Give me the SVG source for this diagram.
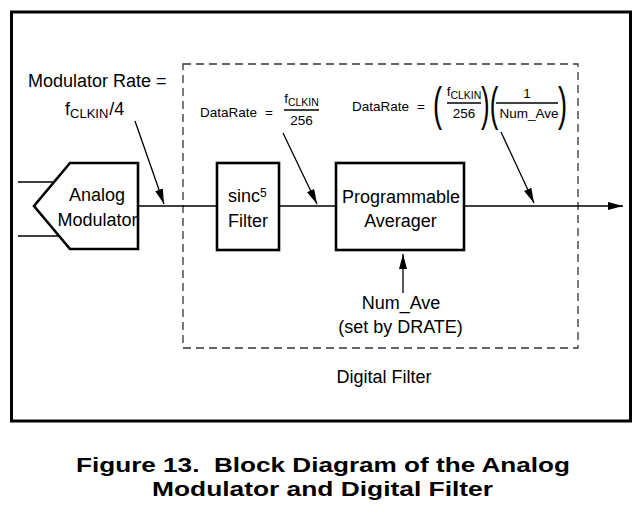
<svg xmlns="http://www.w3.org/2000/svg" width="644" height="514" viewBox="0 0 644 514">
<defs>
<style>
text{font-family:"Liberation Sans",Arial,Helvetica,sans-serif;fill:#000}
.t18{font-size:18px}
.t13{font-size:13.5px}
.cap{font-size:21px;font-weight:bold}
.mid{text-anchor:middle}
.box{fill:#fff;stroke:#000;stroke-width:2.6}
.ln{fill:none;stroke:#000;stroke-width:1.3}
.par{font-size:47px}
</style>
<marker id="ah" markerWidth="15" markerHeight="8" refX="15" refY="4" orient="auto" markerUnits="userSpaceOnUse">
<path d="M0,0 L15,4 L0,8 z" fill="#000"/>
</marker>
</defs>
<rect width="644" height="514" fill="#fff"/>
<g id="frame">
<rect x="11.5" y="12" width="619" height="409" fill="none" stroke="#000" stroke-width="3"/>
</g>
<g id="digital-filter">
<rect x="183" y="64" width="395" height="284" fill="none" stroke="#333" stroke-width="1.3" stroke-dasharray="8,5"/>
<text class="t18 mid" x="384" y="383">Digital Filter</text>
</g>
<g id="connectors">
<line class="ln" x1="18" y1="182" x2="54" y2="182"/>
<line class="ln" x1="18" y1="236" x2="59" y2="236"/>
<line class="ln" x1="138" y1="206" x2="217" y2="206"/>
<line class="ln" x1="279" y1="206" x2="336" y2="206"/>
<line class="ln" x1="464" y1="206" x2="623" y2="206" marker-end="url(#ah)"/>
<line class="ln" x1="135" y1="121" x2="164" y2="204" marker-end="url(#ah)"/>
<line class="ln" x1="283" y1="133" x2="317" y2="204" marker-end="url(#ah)"/>
<line class="ln" x1="501" y1="132" x2="534" y2="203" marker-end="url(#ah)"/>
<line class="ln" x1="403" y1="293" x2="403" y2="254" marker-end="url(#ah)"/>
</g>
<g id="analog-modulator">
<path class="box" d="M70,163 L138,163 L138,249 L70,249 L34,206 Z"/>
<text class="t18 mid" x="97" y="201">Analog</text>
<text class="t18 mid" x="97.5" y="226">Modulator</text>
</g>
<g id="sinc-filter">
<rect class="box" x="217" y="163" width="62" height="87"/>
<text class="t18" x="228" y="202">sinc<tspan font-size="12" dy="-5">5</tspan></text>
<text class="t18 mid" x="248" y="227">Filter</text>
</g>
<g id="programmable-averager">
<rect class="box" x="336" y="163" width="128" height="87"/>
<text class="t18 mid" x="401" y="203">Programmable</text>
<text class="t18 mid" x="400.5" y="227">Averager</text>
</g>
<g id="num-ave">
<text class="t18 mid" x="401" y="309">Num_Ave</text>
<text class="t18 mid" x="400.5" y="333">(set by DRATE)</text>
</g>
<g id="modulator-rate">
<text class="t18" x="28" y="87">Modulator Rate =</text>
<text class="t18" x="65" y="115">f<tspan font-size="13" dy="3">CLKIN</tspan><tspan dy="-3" dx="1">/4</tspan></text>
</g>
<g id="datarate-1">
<text class="t13" x="200" y="117">DataRate</text>
<text class="t13 mid" x="269" y="117">=</text>
<text class="t13 mid" x="301.5" y="103">f<tspan font-size="10.5" dy="3">CLKIN</tspan></text>
<line class="ln" x1="284" y1="110" x2="319" y2="110"/>
<text class="t13 mid" x="301.5" y="125">256</text>
</g>
<g id="datarate-2">
<text class="t13" x="352" y="111">DataRate</text>
<text class="t13 mid" x="421" y="111">=</text>
<text class="par" transform="translate(433,120) scale(0.58,1)" x="0" y="0">(</text>
<text class="t13 mid" x="464" y="96">f<tspan font-size="10.5" dy="3">CLKIN</tspan></text>
<line class="ln" x1="447" y1="103" x2="481" y2="103"/>
<text class="t13 mid" x="464" y="118">256</text>
<text class="par" transform="translate(481,120) scale(0.55,1)" x="0" y="0">)</text>
<text class="par" transform="translate(489.8,120) scale(0.55,1)" x="0" y="0">(</text>
<text class="t13 mid" x="527" y="98">1</text>
<line class="ln" x1="496" y1="103" x2="558" y2="103"/>
<text class="t13 mid" x="529" y="118">Num_Ave</text>
<text class="par" transform="translate(558,120) scale(0.58,1)" x="0" y="0">)</text>
</g>
<g id="caption">
<text class="cap" x="76" y="472" textLength="494" lengthAdjust="spacingAndGlyphs" xml:space="preserve">Figure 13.  Block Diagram of the Analog</text>
<text class="cap" x="152" y="496" textLength="341" lengthAdjust="spacingAndGlyphs">Modulator and Digital Filter</text>
</g>
</svg>
